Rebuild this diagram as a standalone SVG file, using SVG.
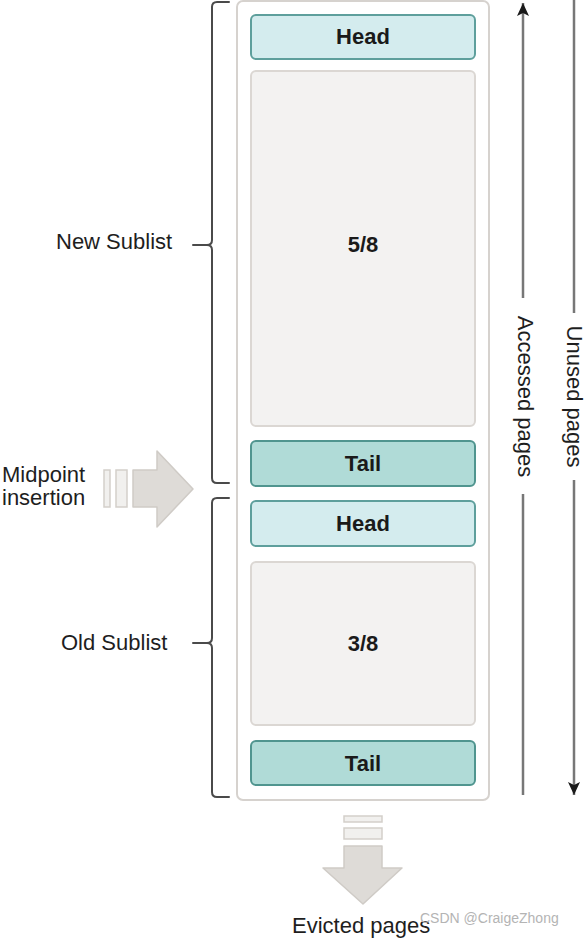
<svg xmlns="http://www.w3.org/2000/svg" width="588" height="942" viewBox="0 0 588 942">
<defs>
<style>
.lbl{font-family:"Liberation Sans",Arial,sans-serif;font-size:22px;fill:#1e1e1e}
.bold{font-family:"Liberation Sans",Arial,sans-serif;font-size:22px;font-weight:bold;fill:#1a1a1a;text-anchor:middle}
.head{fill:#d4ecee;stroke:#5e9f9c;stroke-width:2}
.tail{fill:#b0dbd7;stroke:#50958f;stroke-width:2}
.body{fill:#f3f2f1;stroke:#dbd7d3;stroke-width:2}
.brace{fill:none;stroke:#4a4a4a;stroke-width:2;stroke-linecap:round}
.axis{fill:none;stroke:#777;stroke-width:2.5}
.bigarrow{fill:#dedbd7;stroke:#cfcbc6;stroke-width:1.5;stroke-linejoin:round}
.bar{fill:#f1f0ee;stroke:#d3cfca;stroke-width:1.5}
</style>
<marker id="ah" viewBox="0 0 13 12" refX="13" refY="6" markerWidth="13" markerHeight="12" markerUnits="userSpaceOnUse" orient="auto">
<path d="M0,0 L13,6 L0,12 L3,6 Z" fill="#1a1a1a"/>
</marker>
</defs>
<rect width="588" height="942" fill="#ffffff"/>

<g id="buffer-pool">
<rect x="237" y="1" width="252" height="799" rx="6" fill="#ffffff" stroke="#d6d2ce" stroke-width="2"/>
</g>

<g id="new-head">
<rect class="head" x="251" y="15" width="224" height="44" rx="5"/>
<text class="bold" x="363" y="44">Head</text>
</g>
<g id="new-body">
<rect class="body" x="251" y="71" width="224" height="355" rx="5"/>
<text class="bold" x="363" y="252" font-size="24">5/8</text>
</g>
<g id="new-tail">
<rect class="tail" x="251" y="441" width="224" height="45" rx="5"/>
<text class="bold" x="363" y="471">Tail</text>
</g>
<g id="old-head">
<rect class="head" x="251" y="501" width="224" height="45" rx="5"/>
<text class="bold" x="363" y="531">Head</text>
</g>
<g id="old-body">
<rect class="body" x="251" y="562" width="224" height="163" rx="5"/>
<text class="bold" x="363" y="651" font-size="24">3/8</text>
</g>
<g id="old-tail">
<rect class="tail" x="251" y="741" width="224" height="44" rx="5"/>
<text class="bold" x="363" y="771">Tail</text>
</g>

<g id="new-sublist-label">
<text class="lbl" x="56" y="249">New Sublist</text>
</g>
<g id="old-sublist-label">
<text class="lbl" x="61" y="650">Old Sublist</text>
</g>

<g id="midpoint-insertion">
<rect class="bar" x="104" y="470" width="6" height="37"/>
<rect class="bar" x="116" y="470" width="11" height="37"/>
<polygon class="bigarrow" points="133,470 157,470 157,451 193,489 157,527 157,507 133,507"/>
<text class="lbl" x="2" y="482">Midpoint</text>
<text class="lbl" x="2" y="505">insertion</text>
</g>

<g id="evicted-pages">
<rect class="bar" x="344" y="816" width="38" height="6"/>
<rect class="bar" x="344" y="828" width="38" height="11"/>
<polygon class="bigarrow" points="344,846 382,846 382,868 402,868 363,904 323,868 344,868"/>
<text class="lbl" x="292" y="933">Evicted pages</text>
</g>

<g id="accessed-pages">
<text class="lbl" transform="translate(518,396.5) rotate(90)" text-anchor="middle">Accessed pages</text>
</g>
<g id="unused-pages">
<text class="lbl" transform="translate(567,396.5) rotate(90)" text-anchor="middle">Unused pages</text>
</g>

<g id="connectors">
<path class="brace" d="M229,2 H217 Q212,2 212,7 V240 Q212,245 207,245 Q212,245 212,250 V478 Q212,483 217,483 H229 M193,245 H207"/>
<path class="brace" d="M229,498 H217 Q212,498 212,503 V638 Q212,643 207,643 Q212,643 212,648 V792 Q212,797 217,797 H229 M193,643 H207"/>
<line class="axis" x1="523" y1="298" x2="523" y2="3" marker-end="url(#ah)"/>
<line class="axis" x1="523" y1="494" x2="523" y2="795"/>
<line class="axis" x1="574" y1="0" x2="574" y2="313"/>
<line class="axis" x1="574" y1="480" x2="574" y2="795" marker-end="url(#ah)"/>
</g>

<text x="420" y="923" font-family="'Liberation Sans',Arial,sans-serif" font-size="14" fill="#b4b4b4">CSDN @CraigeZhong</text>
</svg>
